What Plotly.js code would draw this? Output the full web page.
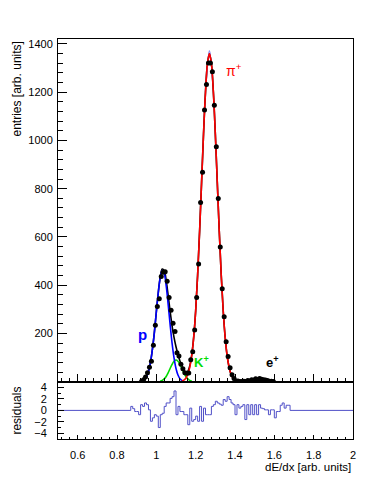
<!DOCTYPE html>
<html>
<head>
<meta charset="utf-8">
<script src="https://cdn.plot.ly/plotly-3.0.1.min.js"></script>
<style>
  html, body { margin: 0; padding: 0; background: #fff; }
  #chart { width: 392px; height: 478px; }
</style>
</head>
<body>
<div id="chart"></div>
<script>
// histogram: bin centres, entries and fit residuals
var binWidth = 0.01;
var binCenters = [0.875, 0.885, 0.895, 0.905, 0.915, 0.925, 0.935, 0.945, 0.955, 0.965,
  0.975, 0.985, 0.995, 1.005, 1.015, 1.025, 1.035, 1.045, 1.055, 1.065,
  1.075, 1.085, 1.095, 1.105, 1.115, 1.125, 1.135, 1.145, 1.155, 1.165,
  1.175, 1.185, 1.195, 1.205, 1.215, 1.225, 1.235, 1.245, 1.255, 1.265,
  1.275, 1.285, 1.295, 1.305, 1.315, 1.325, 1.335, 1.345, 1.355, 1.365,
  1.375, 1.385, 1.395, 1.405, 1.415, 1.425, 1.435, 1.445, 1.455, 1.465,
  1.475, 1.485, 1.495, 1.505, 1.515, 1.525, 1.535, 1.545, 1.555, 1.565,
  1.575, 1.585, 1.595, 1.605, 1.615, 1.625, 1.635, 1.645, 1.655, 1.665,
  1.675, 1.685];
var counts = [null, null, null, null, null, 2, 8, 20, 37, 60,
  85, 151, 234, 312, 344, 436, 454, 456, 416, 349,
  296, 243, 208, 120, 107, 73, 54, 37, 35, 36,
  91, 124, 215, 349, 488, 743, 868, 1126, 1232, 1321,
  1321, 1284, 1146, 974, 759, 558, 385, 269, 166, 105,
  58, 29, 14, 3, 3, 1, 1, 2, 1, 5,
  3, 9, 6, 13, 8, 14, 11, 9, 7, 5,
  2, 2, 1, null, null, null, null, null, null, null,
  null, null];
var residuals = [0.7, 0.3, -0.2, -0.2, -0.75, 1.0, 0.7, 1.3, 1.0, 0.1,
  -1.9, -1.3, -0.75, -1.0, -3.0, -0.75, -0.5, 0.7, 1.3, 1.3,
  2.1, 2.4, 3.4, -0.75, 0.7, -0.2, -0.2, -0.75, -0.75, -2.5,
  0.4, -1.9, -1.6, -1.0, -1.9, 0.7, -1.9, 0.4, -0.75, -0.75,
  -0.75, 0.7, 1.0, 1.6, 1.3, 1.1, 0.9, 1.9, 1.6, 2.4,
  1.9, 1.3, 1.0, -0.75, 1.0, 0.4, 0.7, 1.0, -1.6, 1.0,
  -0.75, 1.0, -0.75, 1.0, -0.75, 1.0, 0.4, 0.3, 0.1, 0.1,
  -0.75, 0.1, 0.1, -1.3, -0.2, -0.2, 0.9, 1.3, 0.4, 0.9,
  0.9, 0.0];

// fit components
var protonX = [0.93, 0.94, 0.95, 0.96, 0.97, 0.98, 0.99, 1.00, 1.01, 1.02, 1.03,
  1.04, 1.05, 1.06, 1.07, 1.08, 1.09, 1.10, 1.11, 1.12, 1.13, 1.14];
var protonY = [4, 10, 21, 43, 79, 134, 205, 289, 370, 432, 461,
  449, 398, 322, 238, 160, 99, 55, 28, 13, 6, 2];
var kaonX = [1.02, 1.03, 1.04, 1.05, 1.06, 1.07, 1.08, 1.09, 1.10,
  1.11, 1.12, 1.13, 1.14, 1.15, 1.16, 1.17, 1.18];
var kaonY = [3, 6, 12, 22, 37, 55, 72, 85, 90, 85, 72, 55, 37, 22, 12, 6, 3];
var pionX = [1.13, 1.14, 1.15, 1.16, 1.17, 1.18, 1.19, 1.20, 1.21, 1.22,
  1.23, 1.24, 1.25, 1.26, 1.27, 1.28, 1.29, 1.30, 1.31, 1.32,
  1.33, 1.34, 1.35, 1.36, 1.37, 1.38, 1.39, 1.40, 1.41];
var pionY = [3, 7, 15, 31, 60, 108, 184, 294, 442, 623,
  825, 1027, 1200, 1318, 1360, 1318, 1200, 1027, 825, 623,
  442, 294, 184, 108, 60, 31, 15, 7, 3];
var totalX = [0.92, 0.93, 0.94, 0.95, 0.96, 0.97, 0.98, 0.99, 1.00, 1.01,
  1.02, 1.03, 1.04, 1.05, 1.06, 1.07, 1.08, 1.09, 1.10, 1.11,
  1.12, 1.13, 1.14, 1.15, 1.16, 1.17, 1.18, 1.19, 1.20, 1.21,
  1.22, 1.23, 1.24, 1.25, 1.26, 1.27, 1.28, 1.29, 1.30, 1.31,
  1.32, 1.33, 1.34, 1.35, 1.36, 1.37, 1.38, 1.39, 1.40, 1.41,
  1.42, 1.43, 1.44, 1.45, 1.46, 1.47, 1.48, 1.49, 1.50, 1.51,
  1.52, 1.53, 1.54, 1.55, 1.56, 1.57, 1.58, 1.59, 1.60, 1.61];
var totalY = [1.5, 4, 10, 21, 43, 79, 134, 205, 289, 370,
  435, 467, 461, 420, 359, 293, 232, 184, 145, 113,
  86, 64, 46, 38, 43, 66, 111, 185, 294, 442,
  623, 825, 1027, 1200, 1318, 1360, 1318, 1200, 1027, 825,
  623, 442, 294, 184, 108, 60, 31, 15, 7, 3,
  1.5, 0.6, 0.8, 1.5, 2.5, 4, 5.7, 7.6, 9.4, 10.6,
  11, 10.6, 9.4, 7.6, 5.7, 4, 2.5, 1.5, 0.8, 0.4];
// fine fit drawn around the pion maximum
var fineX = [1.255, 1.262, 1.266, 1.270, 1.274, 1.278, 1.285];
var fineY = [1250, 1330, 1362, 1372, 1362, 1330, 1250];

var yTickVals = [200, 400, 600, 800, 1000, 1200, 1400];
var font = 'Liberation Sans, Arial, Helvetica, sans-serif';

// residual histogram as a step line, flat at zero outside the filled bins
var stepX = [0.5];
var stepY = [0];
for (var i = 0; i < binCenters.length; i++) {
  stepX.push(binCenters[i] - binWidth / 2);
  stepY.push(residuals[i]);
}
stepX.push(binCenters[binCenters.length - 1] + binWidth / 2, 2.0);
stepY.push(0, 0);

var curve = function (x, y, color, width) {
  return {
    type: 'scatter', mode: 'lines', x: x, y: y,
    xaxis: 'x', yaxis: 'y',
    line: { color: color, width: width, shape: 'spline', smoothing: 1 },
    hoverinfo: 'skip'
  };
};

var data = [
  curve(totalX, totalY, '#000000', 1.6),
  {
    type: 'scatter', mode: 'lines', x: fineX, y: fineY,
    line: { color: 'rgba(110,110,230,0.75)', width: 1 }
  },
  curve(kaonX, kaonY, '#00dd00', 1.6),
  curve(protonX, protonY, '#0000ff', 1.6),
  curve(pionX, pionY, '#ff0000', 1.6),
  {
    type: 'scatter', mode: 'markers', x: binCenters, y: counts,
    marker: { color: '#000000', size: 5 }
  },
  {
    type: 'scatter', mode: 'lines', x: stepX, y: stepY,
    xaxis: 'x2', yaxis: 'y2',
    line: { color: 'rgb(80,80,200)', width: 1, shape: 'hv' }
  }
];

var tickFont = { family: font, size: 11, color: '#000' };

var layout = {
  width: 392,
  height: 478,
  margin: { l: 58, r: 39, t: 39, b: 39 },
  paper_bgcolor: '#fff',
  plot_bgcolor: '#fff',
  showlegend: false,
  font: { family: font, color: '#000' },
  xaxis: {
    domain: [0, 1], anchor: 'y', range: [0.5, 2],
    showticklabels: false, showgrid: false, zeroline: false,
    showline: true, mirror: true, linecolor: '#000', linewidth: 1,
    ticks: 'inside', dtick: 0.2, tick0: 0.6, ticklen: 8, tickcolor: '#000',
    minor: { dtick: 0.04, tick0: 0.6, ticks: 'inside', ticklen: 4, tickcolor: '#000' }
  },
  yaxis: {
    domain: [0.143, 1], anchor: 'x', range: [0, 1420],
    showgrid: false, zeroline: false,
    showline: true, mirror: true, linecolor: '#000', linewidth: 1,
    tickmode: 'array', tickvals: yTickVals,
    ticks: 'inside', ticklen: 9, tickcolor: '#000',
    ticklabelstandoff: 2,
    minor: { dtick: 40, tick0: 0, ticks: 'inside', ticklen: 5, tickcolor: '#000' },
    tickfont: tickFont
  },
  xaxis2: {
    domain: [0, 1], anchor: 'y2', range: [0.5, 2], matches: 'x',
    showgrid: false, zeroline: false,
    showline: true, mirror: true, linecolor: '#000', linewidth: 1,
    ticks: 'inside', dtick: 0.2, tick0: 0.6, ticklen: 4, tickcolor: '#000',
    ticklabelstandoff: 6,
    minor: { dtick: 0.04, tick0: 0.6, ticks: 'inside', ticklen: 2, tickcolor: '#000' },
    tickfont: tickFont
  },
  yaxis2: {
    domain: [0, 0.143], anchor: 'x2', range: [-5, 5],
    showgrid: false, zeroline: false,
    showline: true, mirror: true, linecolor: '#000', linewidth: 1,
    ticks: 'inside', dtick: 2, tick0: 0, ticklen: 6, tickcolor: '#000',
    ticklabelstandoff: 8,
    minor: { dtick: 1, ticks: 'inside', ticklen: 3, tickcolor: '#000' },
    tickfont: tickFont
  },
  annotations: [
    { text: 'entries [arb. units]', xref: 'paper', yref: 'paper', x: -0.139, y: 1,
      xanchor: 'center', yanchor: 'top', textangle: -90, showarrow: false,
      font: { family: font, size: 12, color: '#000' } },
    { text: 'residuals', xref: 'paper', yref: 'paper', x: -0.139, y: 0.071,
      xanchor: 'center', yanchor: 'middle', textangle: -90, showarrow: false,
      font: { family: font, size: 12, color: '#000' } },
    { text: 'dE/dx [arb. units]', xref: 'paper', yref: 'paper', x: 1, y: -0.07,
      xanchor: 'right', yanchor: 'middle', showarrow: false,
      font: { family: font, size: 11.5, color: '#000' } },
    { text: '<b>p</b>', xref: 'x', yref: 'y', x: 0.931, y: 195, showarrow: false,
      font: { family: font, size: 15, color: '#0000ff' } },
    { text: '<b>K<sup>+</sup></b>', xref: 'x', yref: 'y', x: 1.231, y: 82, showarrow: false,
      font: { family: font, size: 13, color: '#00dd00' } },
    { text: '\u03c0<sup>+</sup>', xref: 'x', yref: 'y', x: 1.395, y: 1291, showarrow: false,
      font: { family: font, size: 14, color: '#ff0000' } },
    { text: '<b>e<sup>+</sup></b>', xref: 'x', yref: 'y', x: 1.592, y: 84, showarrow: false,
      font: { family: font, size: 13, color: '#000' } }
  ]
};

Plotly.newPlot('chart', data, layout, { displayModeBar: false, staticPlot: true });
</script>
</body>
</html>
